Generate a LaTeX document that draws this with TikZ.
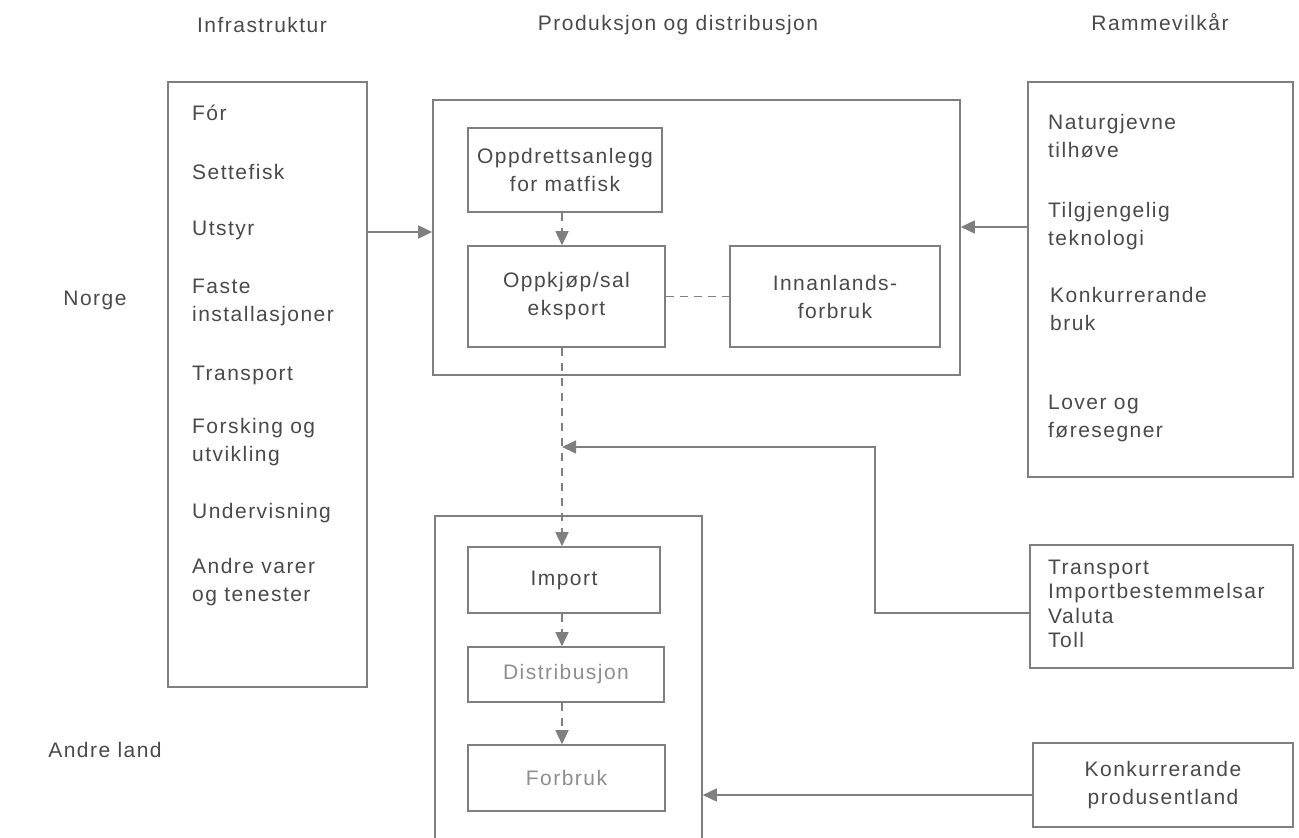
\documentclass[tikz,border=0pt]{standalone}
\usepackage{fontspec}
\setmainfont{Liberation Sans}[LetterSpace=7]
\usetikzlibrary{arrows.meta}
\definecolor{ln}{HTML}{7F7F7F}
\definecolor{tx}{HTML}{4A4A4A}
\definecolor{tl}{HTML}{8E8E8E}
\begin{document}
\begin{tikzpicture}[x=1pt,y=-1pt,
  font=\fontsize{21}{28}\selectfont,
  box/.style={draw=ln, line width=1.6pt, inner sep=0pt, align=center, text=tx},
  lbl/.style={inner sep=0pt, align=left, text=tx, anchor=west},
  ttl/.style={inner sep=0pt, text=tx},
  arr/.style={draw=ln, line width=1.6pt, -{Triangle[length=14pt,width=13pt]}},
  dsh/.style={draw=ln, line width=1.6pt, dash pattern=on 8pt off 6pt},
  darr/.style={arr, dash pattern=on 8pt off 7pt}]
\useasboundingbox (0,0) rectangle (1299,838);
\fill[white] (0,0) rectangle (1299,838);

% titles
\node[ttl] (t1) at (262,25) {Infrastruktur};
\node[ttl] (t2) at (678,25) {Produksjon og distribusjon};
\node[ttl] (t3) at (1160,22) {Rammevilkår};
\node[ttl] (norge) at (95,300) {Norge};
\node[ttl] (andre) at (105,750) {Andre land};

% boxes
\node[box, minimum width=199pt, minimum height=605pt] (infra) at (267.5,384.5) {};
\node[box, minimum width=527pt, minimum height=275pt] (top) at (696.5,237.5) {};
\node[box, minimum width=194pt, minimum height=84pt] (oppd) at (565,170) {Oppdrettsanlegg\\for matfisk};
\node[box, minimum width=197pt, minimum height=101pt] (oppk) at (566.5,296.5) {Oppkjøp/sal\\eksport};
\node[box, minimum width=210pt, minimum height=101pt] (innan) at (835,296.5) {Innanlands-\\forbruk};
\node[box, minimum width=265pt, minimum height=395pt] (ramme) at (1160.5,279.5) {};
\node[box, minimum width=267pt, minimum height=354pt] (bot) at (568.5,693) {};
\node[box, minimum width=192pt, minimum height=66pt] (import) at (564,580) {Import};
\node[box, minimum width=196pt, minimum height=55pt, text=tl] (distr) at (566,674.5) {Distribusjon};
\node[box, minimum width=197pt, minimum height=66pt, text=tl] (forbr) at (566.5,778) {Forbruk};
\node[box, minimum width=263pt, minimum height=123pt] (transp) at (1161.5,606.5) {};
\node[box, minimum width=260pt, minimum height=84pt] (konk) at (1163,785) {Konkurrerande\\produsentland};

% infrastructure items
\node[lbl] (i1) at (192,113) {Fór};
\node[lbl] (i2) at (192,172) {Settefisk};
\node[lbl] (i3) at (192,230) {Utstyr};
\node[lbl] (i4) at (192,302) {Faste\\installasjoner};
\node[lbl] (i5) at (192,375) {Transport};
\node[lbl] (i6) at (192,442) {Forsking og\\utvikling};
\node[lbl] (i7) at (192,513) {Undervisning};
\node[lbl] (i8) at (192,582) {Andre varer\\og tenester};

% framework items
\node[lbl] (r1) at (1048,136) {Naturgjevne\\tilhøve};
\node[lbl] (r2) at (1048,226) {Tilgjengelig\\teknologi};
\node[lbl] (r3) at (1050,309) {Konkurrerande\\bruk};
\node[lbl] (r4) at (1048,418) {Lover og\\føresegner};

% transport box text
\node[lbl, font=\fontsize{21}{24.5}\selectfont] (tr) at (1048,604) {Transport\\Importbestemmelsar\\Valuta\\Toll};

% helper coordinates
\coordinate (xv) at (562,0);
\coordinate (ya) at (0,232);
\coordinate (yb) at (0,227);
\coordinate (yc) at (0,613);
\coordinate (yd) at (0,795);
\coordinate (bend) at (875,447);

% connectors
\draw[arr] (infra.east |- ya) -- (top.west |- ya);
\draw[arr] (ramme.west |- yb) -- (top.east |- yb);
\draw[darr] (oppd.south -| xv) -- (oppk.north -| xv);
\draw[dsh] (oppk.east) -- (oppk.east -| innan.west);
\draw[darr] (oppk.south -| xv) -- (import.north -| xv);
\draw[arr] (transp.west |- yc) -| (bend) -- (bend -| xv);
\draw[darr] (import.south -| xv) -- (distr.north -| xv);
\draw[darr] (distr.south -| xv) -- (forbr.north -| xv);
\draw[arr] (konk.west |- yd) -- (bot.east |- yd);
\end{tikzpicture}
\end{document}
